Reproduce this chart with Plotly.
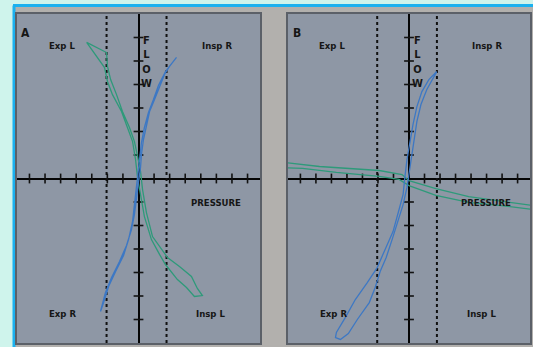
import plotly.graph_objects as go
from plotly.subplots import make_subplots

# ---------------- data (pressure = x, flow = y) ----------------
# Panel A – green loop (Exp L -> Insp L)
A_GREEN_X = [-3.33, -2.37, -2.05, -1.99, -1.79, -1.41, -1.03, -0.58, -0.26, -0.06, 0.13, 0.26, 0.51,
             0.90, 1.47, 1.86, 2.63, 3.40, 3.78, 4.10,
             3.59, 3.08, 2.50, 2.12, 1.73, 1.35, 0.83, 0.38, 0.13, -0.06, -0.19, -0.38, -0.71,
             -1.09, -1.67, -1.99, -2.18, -2.69, -3.33]
A_GREEN_Y = [5.79, 5.49, 5.36, 4.77, 4.21, 3.57, 2.85, 2.17, 1.57, 0.94, 0.30, -0.47, -1.45,
             -2.47, -3.02, -3.36, -3.74, -4.17, -4.68, -4.98,
             -5.02, -4.64, -4.30, -3.96, -3.66, -3.23, -2.60, -1.62, -0.68, 0.04, 0.81, 1.57, 2.17,
             2.85, 3.57, 4.13, 4.72, 5.19, 5.79]

# Panel A – blue loop (Insp R -> Exp R)
A_BLUE_X = [2.44, 1.99, 1.67, 1.35, 1.03, 0.71, 0.51, 0.32, 0.19, 0.13, 0.00, -0.13, -0.26,
            -0.45, -0.77, -1.22, -1.73, -2.12, -2.44,
            -2.24, -1.92, -1.47, -0.96, -0.64, -0.38, -0.26, -0.13, 0.00, 0.06, 0.19, 0.38,
            0.64, 0.96, 1.28, 1.73, 2.44]
A_BLUE_Y = [5.15, 4.77, 4.43, 3.87, 3.36, 2.85, 2.30, 1.66, 1.02, 0.47, -0.17, -0.89, -1.53,
            -2.17, -2.85, -3.53, -4.21, -4.85, -5.66,
            -5.28, -4.60, -3.96, -3.28, -2.60, -1.83, -1.11, -0.38, 0.30, 0.89, 1.53, 2.17,
            2.81, 3.36, 3.96, 4.55, 5.15]

# Panel B – green loop (nearly flat)
B_GREEN_X = [8.30, 5.96, 3.85, 1.73, 0.00, -0.45, -1.92, -5.77, -8.30,
             -8.30, -6.86, -4.68, -1.92, -0.64, 0.00, 1.73, 3.85, 5.96, 8.30]
B_GREEN_Y = [-1.18, -0.98, -0.77, -0.43, -0.09, 0.17, 0.34, 0.51, 0.70,
             0.47, 0.43, 0.26, 0.09, -0.04, -0.30, -0.72, -1.02, -1.15, -1.34]

# Panel B – blue loop
B_BLUE_X = [1.79, 1.28, 0.83, 0.51, 0.26, 0.06, -0.13, -0.26, -0.38, -0.64, -1.03, -1.54,
            -2.05, -2.69, -3.46, -4.10, -4.68, -4.74, -4.42, -3.91,
            -3.33, -2.56, -2.18, -1.86, -1.47, -1.09, -0.71, -0.38, -0.13, 0.00, 0.13, 0.32,
            0.51, 0.77, 1.15, 1.79]
B_BLUE_Y = [4.55, 4.21, 3.70, 3.06, 2.30, 1.53, 0.81, 0.09, -0.68, -1.32, -2.26, -3.02,
            -3.79, -4.43, -5.15, -5.91, -6.55, -6.77, -6.85, -6.60,
            -6.00, -5.28, -4.64, -3.96, -3.36, -2.60, -1.83, -1.11, -0.38, 0.17, 0.81, 1.66,
            2.43, 3.15, 3.79, 4.55]

# reference lines and tick marks
DASH_X = [-2.05, 1.80]
X_TICKS = [-7, -6, -5, -4, -3, -2, -1, 1, 2, 3, 4, 5, 6, 7]
Y_TICKS = [-6, -5, -4, -3, -2, -1, 1, 2, 3, 4, 5, 6]

# labels
PANEL_LABELS = ["A", "B"]
LABEL_TEXT = ["Exp L", "Insp R", "Exp R", "Insp L", "PRESSURE"]
LABEL_X = [-4.94, 5.06, -4.85, 4.65, 4.97]
LABEL_Y = [5.66, 5.66, -5.75, -5.75, -1.0]
FLOW_TEXT = "F<br>L<br>O<br>W"

X_RANGE = [-7.8, 7.8]
Y_RANGE = [-7.0, 7.0]

# ---------------- styling ----------------
GREEN = "#2e9a7a"
BLUE = "#3d78c4"
PANEL_BG = "#8e97a5"
GAP_GRAY = "#b2b0ad"
PAGE_BG = "#cff4ec"
CYAN = "#1bb1ef"
W, H = 533, 347

fig = make_subplots(rows=1, cols=2, horizontal_spacing=0.05)

panels = [
    (A_GREEN_X, A_GREEN_Y, A_BLUE_X, A_BLUE_Y),
    (B_GREEN_X, B_GREEN_Y, B_BLUE_X, B_BLUE_Y),
]

for i, (gx, gy, bx, by) in enumerate(panels, start=1):
    for dx in DASH_X:
        fig.add_trace(go.Scatter(x=[dx, dx], y=Y_RANGE, mode="lines",
                                 line=dict(color="#111111", width=2, dash="dot"),
                                 hoverinfo="skip", showlegend=False), row=1, col=i)
    fig.add_trace(go.Scatter(x=X_TICKS, y=[0] * len(X_TICKS), mode="markers",
                             marker=dict(symbol="line-ns", size=7,
                                         line=dict(color="#111111", width=1.6)),
                             hoverinfo="skip", showlegend=False), row=1, col=i)
    fig.add_trace(go.Scatter(x=[0] * len(Y_TICKS), y=Y_TICKS, mode="markers",
                             marker=dict(symbol="line-ew", size=7,
                                         line=dict(color="#111111", width=1.6)),
                             hoverinfo="skip", showlegend=False), row=1, col=i)
    fig.add_trace(go.Scatter(x=gx, y=gy, mode="lines",
                             line=dict(color=GREEN, width=1.3),
                             showlegend=False), row=1, col=i)
    fig.add_trace(go.Scatter(x=bx, y=by, mode="lines",
                             line=dict(color=BLUE, width=1.3),
                             showlegend=False), row=1, col=i)

x_domains = [[17 / W, 260 / W], [288 / W, 530 / W]]
y_domain = [1 - 343 / H, 1 - 14 / H]

axis_common = dict(showgrid=False, showticklabels=False, ticks="",
                   zeroline=True, zerolinecolor="#050505", zerolinewidth=2,
                   showline=True, mirror=True, linecolor="#5b6068", linewidth=2)

fig.update_xaxes(range=X_RANGE, **axis_common)
fig.update_yaxes(range=Y_RANGE, **axis_common)
fig.update_layout(
    xaxis=dict(domain=x_domains[0]), xaxis2=dict(domain=x_domains[1]),
    yaxis=dict(domain=y_domain), yaxis2=dict(domain=y_domain),
)

font = dict(family="DejaVu Sans Condensed, Liberation Sans Narrow, sans-serif",
            size=9.5, color="#161616")
annotations = []
for i, lab in enumerate(PANEL_LABELS, start=1):
    xr = "x" if i == 1 else "x2"
    yr = "y" if i == 1 else "y2"
    annotations.append(dict(x=-7.25, y=6.2, xref=xr, yref=yr, text="<b>" + lab + "</b>",
                            showarrow=False, font=dict(font, size=12)))
    for t, lx, ly in zip(LABEL_TEXT, LABEL_X, LABEL_Y):
        annotations.append(dict(x=lx, y=ly, xref=xr, yref=yr, text="<b>" + t + "</b>",
                                showarrow=False, font=font))
    annotations.append(dict(x=0.52, y=4.96, xref=xr, yref=yr, text="<b>" + FLOW_TEXT + "</b>",
                            showarrow=False, font=dict(font, size=11)))

shapes = [
    dict(type="rect", xref="paper", yref="paper", x0=14 / W, x1=1.01, y0=-0.01, y1=1 - 6 / H,
         fillcolor=GAP_GRAY, line=dict(width=0), layer="below"),
    dict(type="line", xref="paper", yref="paper", x0=13 / W, x1=1.0, y0=1 - 5.5 / H, y1=1 - 5.5 / H,
         line=dict(color=CYAN, width=3), layer="below"),
    dict(type="line", xref="paper", yref="paper", x0=14 / W, x1=14 / W, y0=0, y1=1 - 5.5 / H,
         line=dict(color=CYAN, width=3), layer="below"),
    dict(type="rect", xref="x domain", yref="y domain", x0=0, x1=1, y0=0, y1=1,
         fillcolor=PANEL_BG, line=dict(width=0), layer="below"),
    dict(type="rect", xref="x2 domain", yref="y2 domain", x0=0, x1=1, y0=0, y1=1,
         fillcolor=PANEL_BG, line=dict(width=0), layer="below"),
]

fig.update_layout(
    width=W, height=H,
    margin=dict(l=0, r=0, t=0, b=0),
    paper_bgcolor=PAGE_BG,
    plot_bgcolor=PANEL_BG,
    annotations=annotations,
    shapes=shapes,
    showlegend=False,
)

fig.write_html("out.html", config={"displayModeBar": False},
               post_script="document.body.style.margin='0';")
